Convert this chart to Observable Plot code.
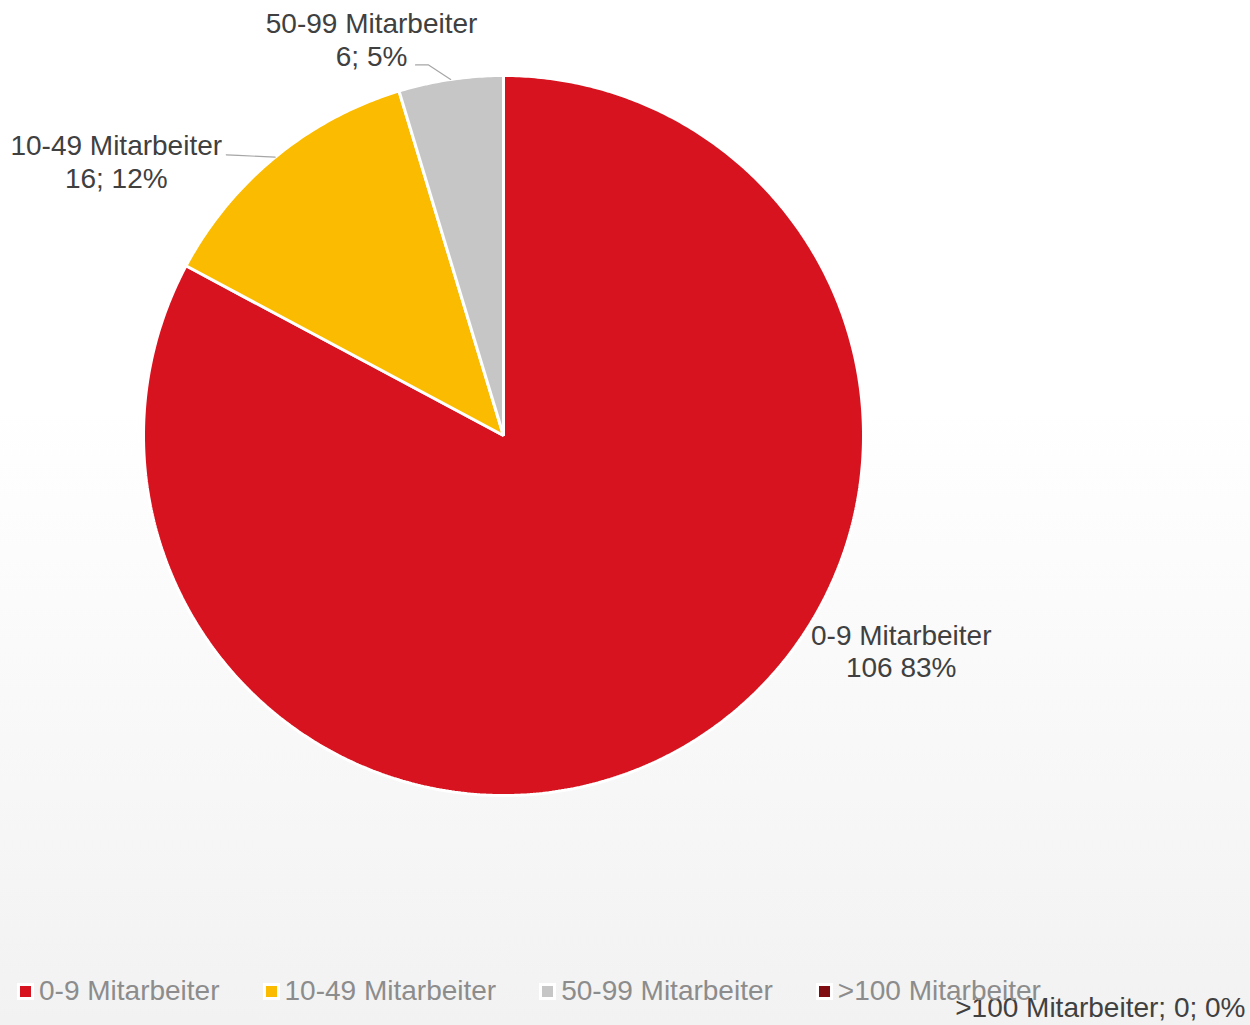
<!DOCTYPE html>
<html>
<head>
<meta charset="utf-8">
<script src="https://cdn.jsdelivr.net/npm/d3@7"></script>
<script src="https://cdn.jsdelivr.net/npm/@observablehq/plot@0.6"></script>
<style>
html, body { margin: 0; padding: 0; }
#chart {
  position: relative; width: 1250px; height: 1025px; overflow: hidden;
  background: linear-gradient(to bottom, #ffffff 0%, #ffffff 40%, #f2f2f2 100%);
  font-family: "Liberation Sans", Arial, sans-serif;
}
#chart svg { position: absolute; left: 0; top: 0; }
#legend {
  position: absolute; left: 17px; top: 975px; display: flex; align-items: center;
  font-size: 28px; color: #8c8c8c; white-space: nowrap;
}
.item { display: flex; align-items: center; margin-right: 43px; }
.sw { width: 11px; height: 11px; border: 3px solid #ffffff; margin-right: 5px; }
</style>
</head>
<body>
<div id="chart"><div id="legend"></div></div>
<script>
// ---- data ----
const categories = ["0-9 Mitarbeiter", "10-49 Mitarbeiter", "50-99 Mitarbeiter", ">100 Mitarbeiter"];
const counts = [106, 16, 6, 0];
const percents = ["83%", "12%", "5%", "0%"];
const colors = ["#d7131f", "#fabb00", "#c6c6c6", "#7f0c10"];

// ---- layout (pixels) ----
const W = 1250, H = 1025, CX = 503, CY = 435, R = 360;
const toX = px => (px - CX) / R;
const toY = py => (CY - py) / R;

const arcs = d3.pie().sort(null).startAngle(0).endAngle(2 * Math.PI)(counts);

// slice polygons
const poly = [];
arcs.forEach((a, i) => {
  if (counts[i] === 0) return;
  poly.push({cat: categories[i], x: 0, y: 0});
  const n = Math.max(2, Math.ceil((a.endAngle - a.startAngle) / (Math.PI / 360)));
  for (let k = 0; k <= n; k++) {
    const t = a.startAngle + (a.endAngle - a.startAngle) * k / n;
    poly.push({cat: categories[i], x: Math.sin(t), y: Math.cos(t)});
  }
});

// label placement: [angle deg, radius factor]
const labelPlace = {
  "0-9 Mitarbeiter": [118.4, 1.256],
  "10-49 Mitarbeiter": [305.3, 1.318],
  "50-99 Mitarbeiter": [341.6, 1.161]
};
const labels = [];
categories.forEach((c, i) => {
  if (!labelPlace[c]) return;
  const [ang, rf] = labelPlace[c];
  const t = ang * Math.PI / 180;
  const sep = i === 0 ? " " : "; ";
  labels.push({cat: c, x: rf * Math.sin(t), y: rf * Math.cos(t),
    text: `${c}\n${counts[i]}${sep}${percents[i]}`});
});

// leader lines: from slice edge at mid-angle to label side (pixel offsets from label center)
const leaderOffsets = {
  "10-49 Mitarbeiter": [[122, -6], [110, -6.5]],
  "50-99 Mitarbeiter": [[57, 26], [44, 26]]
};
const leaders = [];
labels.forEach(l => {
  const off = leaderOffsets[l.cat];
  if (!off) return;
  const i = categories.indexOf(l.cat);
  const mid = (arcs[i].startAngle + arcs[i].endAngle) / 2;
  leaders.push({cat: l.cat, x: Math.sin(mid), y: Math.cos(mid)});
  off.forEach(([dx, dy]) => leaders.push({cat: l.cat, x: l.x + dx / R, y: l.y - dy / R}));
});

const zeroIdx = counts.findIndex(v => v === 0);
const zeroLabel = [{text: `${categories[zeroIdx]}; ${counts[zeroIdx]}; ${percents[zeroIdx]}`}];

const plot = Plot.plot({
  width: W, height: H, margin: 0,
  x: {domain: [toX(0), toX(W)], axis: null},
  y: {domain: [toY(H), toY(0)], axis: null},
  color: {domain: categories, range: colors},
  style: {background: "transparent", fontFamily: "'Liberation Sans', Arial, sans-serif", overflow: "visible"},
  marks: [
    Plot.line(poly, {x: "x", y: "y", z: "cat", fill: "cat", stroke: "#ffffff", strokeWidth: 3,
      strokeLinejoin: "miter", curve: "linear-closed"}),
    Plot.line(leaders, {x: "x", y: "y", z: "cat", stroke: "#a6a6a6", strokeWidth: 1.2}),
    Plot.text(labels, {x: "x", y: "y", text: "text", fontSize: 28, lineHeight: 1.17,
      fill: "#404040", textAnchor: "middle", lineAnchor: "middle"}),
    Plot.text(zeroLabel, {text: "text", frameAnchor: "bottom-right", textAnchor: "end",
      lineAnchor: "middle", dx: -5, dy: -17, fontSize: 28, fill: "#404040"})
  ]
});
const chart = document.getElementById("chart");
chart.insertBefore(plot, chart.firstChild);

// legend
const legend = document.getElementById("legend");
categories.forEach((c, i) => {
  const item = document.createElement("div");
  item.className = "item";
  const sw = document.createElement("div");
  sw.className = "sw";
  sw.style.background = colors[i];
  const tx = document.createElement("span");
  tx.textContent = c;
  item.appendChild(sw); item.appendChild(tx);
  legend.appendChild(item);
});
</script>
</body>
</html>
